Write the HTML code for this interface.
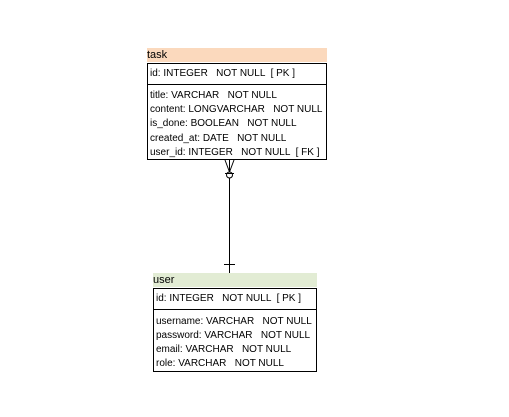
<!DOCTYPE html>
<html><head><style>
body{margin:0;width:509px;height:417px;background:#fff;position:relative;font-family:"Liberation Sans",sans-serif;font-size:11px;color:#000;overflow:hidden}
.h{position:absolute;height:14px;line-height:14px;padding-left:0}
.b{position:absolute;border:1px solid #000;box-sizing:border-box;background:#fff;overflow:hidden}
.r{position:absolute;left:2px;white-space:nowrap;line-height:14px;font-size:10px}
.d{position:absolute;left:0;right:0;border-top:1px solid #000}
</style></head><body>
<div class="h" style="left:147px;top:48px;width:180px;background:#fbd9bd">task</div>
<div class="b" style="left:147px;top:63px;width:180px;height:97px">
<div class="r" style="top:3px">id: INTEGER &nbsp; NOT NULL &nbsp;[ PK ]</div>
<div class="d" style="top:20px"></div>
<div class="r" style="top:25px">title: VARCHAR &nbsp; NOT NULL</div>
<div class="r" style="top:39px">content: LONGVARCHAR &nbsp; NOT NULL</div>
<div class="r" style="top:53px">is_done: BOOLEAN &nbsp; NOT NULL</div>
<div class="r" style="top:68px">created_at: DATE &nbsp; NOT NULL</div>
<div class="r" style="top:82px">user_id: INTEGER &nbsp; NOT NULL &nbsp;[ FK ]</div>
</div>
<div class="h" style="left:153px;top:273px;width:164px;background:#e2ecd4">user</div>
<div class="b" style="left:153px;top:288px;width:164px;height:84px">
<div class="r" style="top:3px">id: INTEGER &nbsp; NOT NULL &nbsp;[ PK ]</div>
<div class="d" style="top:20px"></div>
<div class="r" style="top:26px">username: VARCHAR &nbsp; NOT NULL</div>
<div class="r" style="top:40px">password: VARCHAR &nbsp; NOT NULL</div>
<div class="r" style="top:54px">email: VARCHAR &nbsp; NOT NULL</div>
<div class="r" style="top:68px">role: VARCHAR &nbsp; NOT NULL</div>
</div>
<svg style="position:absolute;left:0;top:0" width="509" height="417">
<g stroke="#000" stroke-width="1" fill="none">
<line x1="229.5" y1="160" x2="229.5" y2="273"/>
<line x1="225" y1="160" x2="229.5" y2="172"/>
<line x1="234" y1="160" x2="229.5" y2="172"/>
<circle cx="229.5" cy="175" r="3" fill="#fff"/>
<line x1="225" y1="173.5" x2="234" y2="173.5"/>
<line x1="224" y1="264.5" x2="235" y2="264.5"/>
</g></svg>
</body></html>
